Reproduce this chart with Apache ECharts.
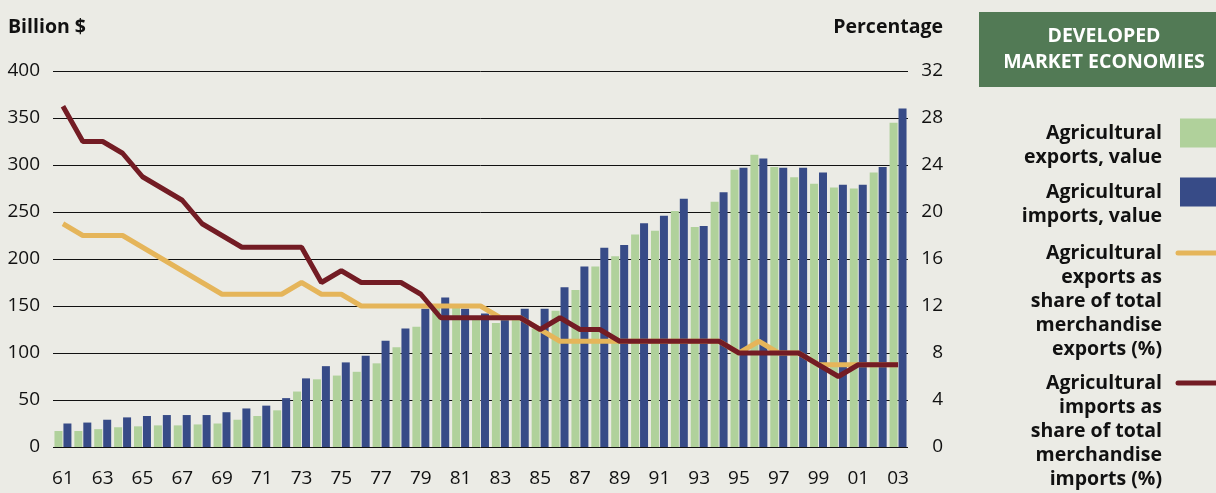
<!DOCTYPE html>
<html>
<head>
<meta charset="utf-8">
<script src="https://cdn.jsdelivr.net/npm/echarts@6/dist/echarts.min.js"></script>
<style>
  html, body { margin: 0; padding: 0; background: #ebebe5; }
  #chart { width: 1216px; height: 493px; }
</style>
</head>
<body>
<div id="chart"></div>
<script>
// years 1961-2003
var years = ["61","62","63","64","65","66","67","68","69","70","71","72","73","74","75","76","77","78","79","80",
  "81","82","83","84","85","86","87","88","89","90","91","92","93","94","95","96","97","98","99","00","01","02","03"];

// billion $
var exportsValue = [17,17,19,21,22,23,23,24,25,29,33,39,59,72,76,80,89,106,128,150,
  148,138,132,136,126,145,167,192,203,226,230,251,234,261,295,311,298,287,280,276,275,292,345];
var importsValue = [25,26,29,31.5,33,34,34,34,37,41,44,52,73,86,90,97,113,126,147,159,
  147,142,140,147,147,170,192,212,215,238,246,264,235,271,297,307,297,297,292,279,279,298,360];

// percentage
var exportsShare = [19,18,18,18,17,16,15,14,13,13,13,13,14,13,13,12,12,12,12,12,
  12,12,11,11,10,9,9,9,9,9,9,9,9,9,8,9,8,8,7,7,7,7,7];
var importsShare = [29,26,26,25,23,22,21,19,18,17,17,17,17,14,15,14,14,14,13,11,
  11,11,11,11,10,11,10,10,9,9,9,9,9,9,8,8,8,8,7,6,7,7,7];

var seriesNames = [
  "Agricultural\nexports, value",
  "Agricultural\nimports, value",
  "Agricultural\nexports as\nshare of total\nmerchandise\nexports (%)",
  "Agricultural\nimports as\nshare of total\nmerchandise\nimports (%)"
];
var colors = ["#b0d19b", "#374b87", "#e5b55a", "#731c24"];
var font = "Open Sans";

var myChart = echarts.init(document.getElementById("chart"));

// legend drawn on the right: text right-aligned, swatch beside it
var legendY = [133, 192, 253, 383];
var legendGraphics = [];
seriesNames.forEach(function(name, i) {
  legendGraphics.push({
    type: "text",
    x: 1162,
    y: legendY[i] - 12,
    style: {
      text: name,
      align: "right",
      verticalAlign: "top",
      lineHeight: 24,
      font: "bold 19.5px '" + font + "'",
      fill: "#111"
    }
  });
  if (i < 2) {
    legendGraphics.push({
      type: "rect",
      shape: { x: 1180, y: legendY[i] - 14.5, width: 40, height: 29 },
      style: { fill: colors[i] }
    });
  } else {
    legendGraphics.push({
      type: "line",
      shape: { x1: 1178, y1: legendY[i], x2: 1220, y2: legendY[i] },
      style: { stroke: colors[i], lineWidth: 5, lineCap: "round" }
    });
  }
});

myChart.setOption({
  backgroundColor: "#ebebe5",
  animation: false,
  textStyle: { fontFamily: font },
  grid: { left: 53, right: 308, top: 71, bottom: 46 },
  graphic: [
    {
      type: "rect",
      shape: { x: 979, y: 12, width: 240, height: 75 },
      style: { fill: "#527a55" }
    },
    {
      type: "text",
      x: 1104,
      y: 49,
      style: {
        text: "DEVELOPED\nMARKET ECONOMIES",
        align: "center",
        verticalAlign: "middle",
        lineHeight: 26,
        font: "bold 19.5px '" + font + "'",
        fill: "#ffffff"
      }
    },
    {
      type: "text",
      x: 8,
      y: 27,
      style: { text: "Billion $", verticalAlign: "middle", font: "bold 19.5px '" + font + "'", fill: "#111" }
    },
    {
      type: "text",
      x: 943,
      y: 27,
      style: { text: "Percentage", align: "right", verticalAlign: "middle", font: "bold 19.5px '" + font + "'", fill: "#111" }
    }
  ].concat(legendGraphics),
  xAxis: {
    type: "category",
    data: years,
    axisLine: { show: false },
    axisTick: { show: false },
    axisLabel: { interval: 1, color: "#111", fontSize: 19, margin: 22 }
  },
  yAxis: [
    {
      type: "value",
      min: 0,
      max: 400,
      interval: 50,
      axisLine: { show: false },
      axisTick: { show: false },
      axisLabel: { color: "#111", fontSize: 19, margin: 13 },
      splitLine: { lineStyle: { color: "#111", width: 1 } }
    },
    {
      type: "value",
      min: 0,
      max: 32,
      interval: 4,
      position: "right",
      axisLine: { show: false },
      axisTick: { show: false },
      axisLabel: { color: "#111", fontSize: 19, margin: 35, align: "right" },
      splitLine: { show: false }
    }
  ],
  series: [
    {
      name: seriesNames[0],
      type: "bar",
      data: exportsValue,
      barWidth: 8,
      barGap: "12%",
      itemStyle: { color: colors[0] }
    },
    {
      name: seriesNames[1],
      type: "bar",
      data: importsValue,
      barWidth: 8,
      barGap: "12%",
      itemStyle: { color: colors[1] }
    },
    {
      name: seriesNames[2],
      type: "line",
      yAxisIndex: 1,
      data: exportsShare,
      symbol: "none",
      z: 3,
      lineStyle: { color: colors[2], width: 5 }
    },
    {
      name: seriesNames[3],
      type: "line",
      yAxisIndex: 1,
      data: importsShare,
      symbol: "none",
      z: 4,
      lineStyle: { color: colors[3], width: 5 }
    }
  ]
});
</script>
</body>
</html>
